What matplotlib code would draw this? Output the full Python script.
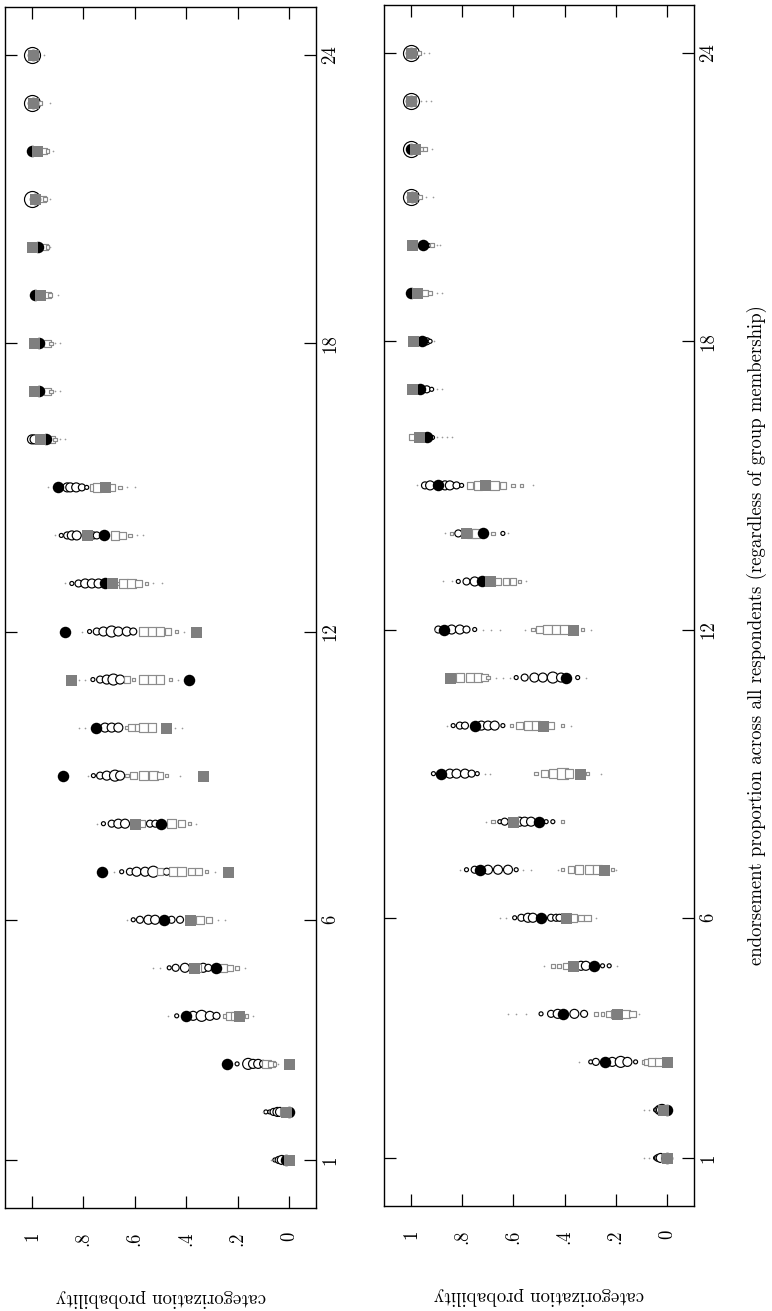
import matplotlib
matplotlib.use("Agg")
import matplotlib.pyplot as plt

plt.rcParams['font.family'] = ['cmr10', 'DejaVu Serif']
plt.rcParams['axes.unicode_minus'] = False

# ---------------- data ----------------
items = list(range(1, 25))
prob_ticks = [1, 0.8, 0.6, 0.4, 0.2, 0]
prob_ticklabels = ['1', '.8', '.6', '.4', '.2', '0']
item_ticks = [1, 6, 12, 18, 24]
item_ticklabels = ['1', '6', '12', '18', '24']
ylab = 'categorization probability'
xlab = 'endorsement proportion across all respondents (regardless of group membership)'

# left panel
black_A = [0.01, 0.0, 0.243, 0.40, 0.285, 0.487, 0.728, 0.50, 0.88, 0.752, 0.391, 0.871,
           0.716, 0.719, 0.897, 0.945, 0.974, 0.972, 0.99, 0.978, 0.99, 1.0, 0.997, 0.997]
gray_A = [0.0, 0.013, 0.0, 0.194, 0.369, 0.386, 0.238, 0.599, 0.334, 0.48, 0.848, 0.362,
          0.69, 0.787, 0.716, 0.968, 0.994, 0.993, 0.968, 0.999, 0.99, 0.98, 0.997, 0.997]
circles_A = [
    [(0.055, 1), (0.04, 2), (0.028, 3)],
    [(0.09, 1), (0.075, 1), (0.06, 2), (0.045, 3), (0.035, 3)],
    [(0.202, 1), (0.159, 4), (0.14, 3), (0.12, 3), (0.101, 2)],
    [(0.437, 1), (0.373, 3), (0.34, 4), (0.308, 3), (0.282, 2)],
    [(0.466, 1), (0.441, 2), (0.405, 3), (0.334, 3), (0.314, 2)],
    [(0.606, 1), (0.58, 2), (0.547, 3), (0.521, 3), (0.457, 2), (0.424, 2)],
    [(0.651, 1), (0.619, 2), (0.593, 3), (0.56, 3), (0.528, 4), (0.476, 2)],
    [(0.722, 1), (0.69, 2), (0.664, 3), (0.638, 3), (0.541, 2), (0.52, 2)],
    [(0.761, 1), (0.735, 2), (0.709, 3), (0.677, 4), (0.657, 3)],
    [(0.716, 3), (0.69, 3), (0.664, 3)],
    [(0.763, 1), (0.735, 2), (0.709, 3), (0.683, 4), (0.657, 3)],
    [(0.776, 1), (0.748, 2), (0.722, 3), (0.69, 4), (0.664, 3), (0.631, 3), (0.606, 2)],
    [(0.845, 1), (0.819, 2), (0.793, 3), (0.767, 3), (0.741, 3)],
    [(0.886, 1), (0.863, 2), (0.845, 3), (0.826, 3), (0.761, 2), (0.748, 2)],
    [(0.863, 3), (0.851, 3), (0.828, 3), (0.806, 2), (0.787, 1)],
    [(1.0, 3), (0.99, 3)],
    [], [], [], [],
    [(1.0, 5)],
    [],
    [(1.0, 5)],
    [(1.0, 5)],
]
squares_A = [
    [(0.01, 3)],
    [(0.02, 3)],
    [(0.088, 3), (0.069, 2), (0.056, 1)],
    [(0.25, 1), (0.23, 3), (0.211, 3), (0.166, 1)],
    [(0.36, 3), (0.259, 3), (0.23, 2), (0.202, 1)],
    [(0.347, 3), (0.311, 2)],
    [(0.502, 2), (0.45, 3), (0.418, 3), (0.379, 2), (0.353, 2), (0.321, 1)],
    [(0.573, 2), (0.457, 3), (0.418, 2), (0.388, 1)],
    [(0.631, 1), (0.606, 2), (0.567, 3), (0.528, 3), (0.502, 2), (0.476, 1)],
    [(0.631, 1), (0.612, 2), (0.586, 2), (0.567, 3), (0.534, 3)],
    [(0.631, 2), (0.606, 1), (0.567, 3), (0.534, 3), (0.502, 3), (0.461, 1)],
    [(0.573, 1), (0.567, 3), (0.534, 3), (0.502, 3), (0.47, 2), (0.437, 1)],
    [(0.664, 1), (0.644, 3), (0.612, 3), (0.586, 2), (0.554, 1)],
    [(0.677, 3), (0.647, 2), (0.619, 1)],
    [(0.761, 2), (0.748, 3), (0.69, 2), (0.657, 1)],
    [(0.922, 2), (0.91, 1)],
    [(0.94, 2), (0.927, 1)],
    [(0.94, 2), (0.927, 1)],
    [(0.94, 2), (0.93, 1)],
    [(0.95, 2), (0.94, 1)],
    [(0.96, 2), (0.95, 1)],
    [(0.955, 2), (0.94, 1)],
    [(0.97, 1)],
    [],
]
dots_A = [
    [0.07, 0.06], [0.1], [0.224, 0.043], [0.472, 0.14], [0.528, 0.502, 0.172],
    [0.631, 0.276, 0.25], [0.679, 0.289], [0.748, 0.36], [0.784, 0.424],
    [0.819, 0.793, 0.444, 0.418], [0.819, 0.793, 0.431], [0.806, 0.408],
    [0.871, 0.528, 0.496], [0.91, 0.593, 0.567], [0.936, 0.631, 0.599],
    [0.89, 0.87], [0.91, 0.89], [0.91, 0.89], [0.9], [0.93], [0.93], [0.92], [0.93], [0.955],
]

# right panel
black_B = [0.0, 0.0, 0.242, 0.405, 0.285, 0.492, 0.731, 0.501, 0.883, 0.751, 0.395, 0.87,
           0.721, 0.718, 0.893, 0.938, 0.964, 0.958, 1.0, 0.951, 0.996, 1.0, 1.0, 1.0]
gray_B = [0.0, 0.015, 0.0, 0.194, 0.369, 0.395, 0.246, 0.602, 0.34, 0.485, 0.848, 0.366,
          0.692, 0.783, 0.712, 0.97, 0.996, 0.993, 0.975, 0.994, 0.996, 0.983, 1.0, 1.0]
circles_B = [
    [(0.045, 1), (0.035, 2), (0.025, 3)],
    [(0.045, 1), (0.03, 3), (0.02, 4)],
    [(0.298, 1), (0.278, 2), (0.214, 3), (0.181, 4), (0.155, 3), (0.123, 1)],
    [(0.492, 1), (0.453, 2), (0.427, 3), (0.362, 3), (0.324, 2)],
    [(0.336, 3), (0.317, 3), (0.252, 1), (0.226, 1)],
    [(0.595, 1), (0.569, 2), (0.543, 3), (0.524, 3), (0.453, 2), (0.433, 2), (0.42, 2)],
    [(0.783, 1), (0.751, 2), (0.699, 3), (0.66, 3), (0.621, 3), (0.589, 1)],
    [(0.653, 1), (0.634, 2), (0.576, 3), (0.556, 3), (0.531, 3), (0.472, 1), (0.446, 1)],
    [(0.912, 1), (0.848, 3), (0.822, 3), (0.789, 3), (0.763, 2), (0.741, 1)],
    [(0.835, 1), (0.809, 2), (0.789, 2), (0.725, 3), (0.699, 3), (0.673, 3), (0.641, 1)],
    [(0.589, 1), (0.556, 2), (0.518, 3), (0.485, 3), (0.446, 4), (0.414, 3), (0.349, 1)],
    [(0.893, 2), (0.841, 3), (0.809, 3), (0.783, 2), (0.751, 1)],
    [(0.815, 1), (0.783, 2), (0.751, 3)],
    [(0.815, 2), (0.75, 2), (0.641, 1)],
    [(0.945, 2), (0.925, 3), (0.867, 3), (0.848, 3), (0.822, 2), (0.802, 1)],
    [(0.919, 1)],
    [(0.938, 2), (0.919, 1)],
    [(0.938, 2), (0.925, 1)],
    [],
    [(0.932, 1)],
    [(1.0, 5)],
    [(1.0, 5)],
    [(1.0, 5)],
    [(1.0, 5)],
]
squares_B = [
    [(0.01, 3)],
    [],
    [(0.091, 1), (0.078, 2), (0.058, 3), (0.032, 3)],
    [(0.278, 1), (0.252, 1), (0.226, 2), (0.201, 3), (0.162, 3), (0.136, 2)],
    [(0.446, 1), (0.421, 1), (0.395, 2)],
    [(0.369, 3), (0.336, 2), (0.311, 2)],
    [(0.408, 1), (0.375, 2), (0.343, 3), (0.304, 3), (0.272, 3), (0.214, 1)],
    [(0.679, 1), (0.408, 1)],
    [(0.511, 1), (0.479, 2), (0.446, 3), (0.408, 4), (0.382, 3), (0.311, 1)],
    [(0.608, 1), (0.576, 2), (0.543, 3), (0.511, 3), (0.453, 2), (0.408, 1)],
    [(0.809, 3), (0.77, 3), (0.738, 3), (0.712, 2), (0.699, 1)],
    [(0.524, 1), (0.498, 2), (0.466, 3), (0.433, 3), (0.401, 3), (0.33, 1)],
    [(0.66, 2), (0.628, 2), (0.602, 2), (0.576, 1)],
    [(0.841, 1), (0.763, 3), (0.744, 3), (0.679, 1)],
    [(0.77, 2), (0.738, 3), (0.673, 3), (0.641, 2), (0.602, 1), (0.569, 1)],
    [(0.996, 2)],
    [], [],
    [(0.945, 2), (0.925, 1)],
    [(0.919, 1)],
    [(0.964, 1)],
    [(0.958, 1), (0.945, 1)],
    [],
    [(0.97, 1)],
]
dots_B = [
    [0.09, 0.07], [0.09, 0.07], [0.343], [0.621, 0.589, 0.55, 0.11], [0.479, 0.194],
    [0.653, 0.628, 0.278], [0.809, 0.563, 0.531, 0.427, 0.201], [0.705],
    [0.712, 0.692, 0.259], [0.861, 0.375], [0.666, 0.641, 0.615, 0.317],
    [0.906, 0.718, 0.686, 0.653, 0.556, 0.298], [0.873, 0.841, 0.55], [0.867, 0.62],
    [0.977, 0.524], [0.9, 0.88, 0.86, 0.84], [0.9, 0.88], [0.91], [0.9, 0.88],
    [0.9, 0.886], [0.94, 0.912], [0.919], [0.96, 0.94, 0.92], [0.95, 0.93],
]

# ---------------- style ----------------
PX = 0.72  # points per pixel at dpi 100
circ_px = {1: 4.0, 2: 7.0, 3: 9.0, 4: 11.0, 5: 16.0}
sq_px = {1: 3.5, 2: 6.5, 3: 8.5, 4: 10.5}
GRAY = '#7f7f7f'
SQEDGE = '#8c8c8c'
FS = 13.5

fig = plt.figure(figsize=(7.72, 13.11), dpi=100)
ax_A = fig.add_axes([5 / 772, 1 - 1208 / 1311, 311 / 772, 1201 / 1311])
ax_B = fig.add_axes([384 / 772, 1 - 1206 / 1311, 310 / 772, 1201 / 1311])


def draw(ax, black, gray, circles, squares, dots):
    for i, y in enumerate(items):
        cp = [c[0] for c in circles[i]]
        cs = [(circ_px[c[1]] * PX) ** 2 for c in circles[i]]
        if cp:
            ax.scatter(cp, [y] * len(cp), s=cs, marker='o', facecolors='white',
                       edgecolors='black', linewidths=0.85, zorder=2)
        sp = [s[0] for s in squares[i]]
        ss = [(sq_px[s[1]] * PX) ** 2 for s in squares[i]]
        if sp:
            ax.scatter(sp, [y] * len(sp), s=ss, marker='s', facecolors='white',
                       edgecolors=SQEDGE, linewidths=0.85, zorder=2)
        if dots[i]:
            ax.plot(dots[i], [y] * len(dots[i]), linestyle='none', marker='o',
                    markersize=1.2, color='#9a9a9a', markeredgewidth=0, zorder=2)
    ax.plot(black, items, linestyle='none', marker='o', markersize=11.5 * PX,
            color='black', markeredgewidth=0, zorder=3)
    ax.plot(gray, items, linestyle='none', marker='s', markersize=11.0 * PX,
            color=GRAY, markeredgewidth=0, zorder=4)

    ax.set_xlim(1.105, -0.105)
    ax.set_ylim(0, 25)
    ax.set_xticks(prob_ticks)
    ax.set_xticklabels(prob_ticklabels, rotation=90, fontsize=FS)
    ax.set_yticks(item_ticks)
    ax.set_yticklabels(item_ticklabels, rotation=90, fontsize=FS, va='center')
    ax.tick_params(axis='x', direction='in', length=8.5, width=0.9, top=True,
                   bottom=True, labelbottom=True, labeltop=False, pad=17)
    ax.tick_params(axis='y', direction='in', length=8.5, width=0.9, left=True,
                   right=True, labelleft=False, labelright=True, pad=4)
    for sp_ in ax.spines.values():
        sp_.set_linewidth(1.0)
        sp_.set_color('black')
    ax.set_xlabel(ylab, rotation=180, fontsize=FS, labelpad=31)


draw(ax_A, black_A, gray_A, circles_A, squares_A, dots_A)
draw(ax_B, black_B, gray_B, circles_B, squares_B, dots_B)

fig.text(757 / 772, 1 - 635 / 1311, xlab, rotation=90, ha='center', va='center',
         fontsize=FS)

fig.savefig('out.png', dpi=100)
